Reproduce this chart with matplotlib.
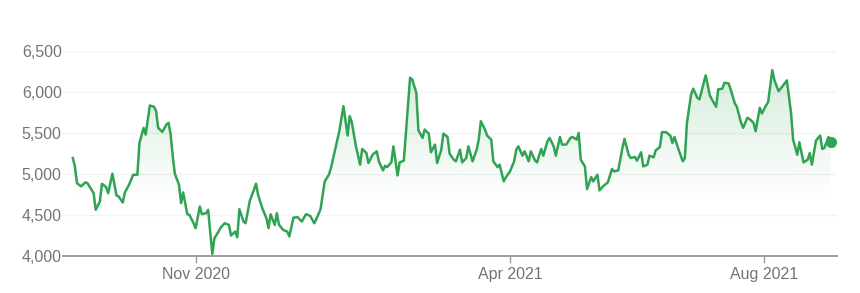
import numpy as np
import pandas as pd
import matplotlib
matplotlib.use('Agg')
import matplotlib.pyplot as plt
import matplotlib.dates as mdates
from matplotlib.ticker import FuncFormatter

plt.rcParams['font.family'] = ['Liberation Sans', 'DejaVu Sans']

# values (one point per visible vertex)
dates = [
    '2020-09-03', '2020-09-04', '2020-09-05', '2020-09-07', '2020-09-09', '2020-09-10',
    '2020-09-11', '2020-09-13', '2020-09-14', '2020-09-16', '2020-09-17', '2020-09-19',
    '2020-09-20', '2020-09-22', '2020-09-24', '2020-09-25', '2020-09-27', '2020-09-28',
    '2020-09-30', '2020-10-01', '2020-10-02', '2020-10-04', '2020-10-05', '2020-10-07',
    '2020-10-08', '2020-10-10', '2020-10-12', '2020-10-13', '2020-10-14', '2020-10-16',
    '2020-10-18', '2020-10-19', '2020-10-20', '2020-10-21', '2020-10-22', '2020-10-24',
    '2020-10-25', '2020-10-26', '2020-10-28', '2020-10-29', '2020-10-31', '2020-11-01',
    '2020-11-03', '2020-11-04', '2020-11-06', '2020-11-07', '2020-11-09', '2020-11-10',
    '2020-11-12', '2020-11-13', '2020-11-15', '2020-11-17', '2020-11-18', '2020-11-20',
    '2020-11-21', '2020-11-22', '2020-11-24', '2020-11-25', '2020-11-27', '2020-11-29',
    '2020-11-30', '2020-12-01', '2020-12-03', '2020-12-05', '2020-12-06', '2020-12-07',
    '2020-12-09', '2020-12-10', '2020-12-11', '2020-12-13', '2020-12-15', '2020-12-16',
    '2020-12-18', '2020-12-20', '2020-12-22', '2020-12-24', '2020-12-26', '2020-12-28',
    '2020-12-29', '2020-12-31', '2021-01-02', '2021-01-04', '2021-01-05', '2021-01-07',
    '2021-01-09', '2021-01-11', '2021-01-13', '2021-01-14', '2021-01-15', '2021-01-17',
    '2021-01-19', '2021-01-20', '2021-01-22', '2021-01-23', '2021-01-25', '2021-01-27',
    '2021-01-28', '2021-01-30', '2021-01-31', '2021-02-01', '2021-02-03', '2021-02-04',
    '2021-02-06', '2021-02-07', '2021-02-09', '2021-02-12', '2021-02-13', '2021-02-15',
    '2021-02-16', '2021-02-18', '2021-02-19', '2021-02-21', '2021-02-22', '2021-02-24',
    '2021-02-25', '2021-02-27', '2021-02-28', '2021-03-02', '2021-03-03', '2021-03-05',
    '2021-03-06', '2021-03-08', '2021-03-09', '2021-03-11', '2021-03-12', '2021-03-14',
    '2021-03-16', '2021-03-17', '2021-03-18', '2021-03-20', '2021-03-21', '2021-03-23',
    '2021-03-24', '2021-03-26', '2021-03-27', '2021-03-29', '2021-03-30', '2021-04-01',
    '2021-04-03', '2021-04-04', '2021-04-05', '2021-04-07', '2021-04-08', '2021-04-10',
    '2021-04-11', '2021-04-13', '2021-04-14', '2021-04-16', '2021-04-17', '2021-04-19',
    '2021-04-20', '2021-04-22', '2021-04-23', '2021-04-25', '2021-04-26', '2021-04-28',
    '2021-04-30', '2021-05-01', '2021-05-03', '2021-05-04', '2021-05-05', '2021-05-07',
    '2021-05-08', '2021-05-10', '2021-05-11', '2021-05-13', '2021-05-14', '2021-05-16',
    '2021-05-18', '2021-05-20', '2021-05-21', '2021-05-23', '2021-05-25', '2021-05-26',
    '2021-05-28', '2021-05-29', '2021-05-31', '2021-06-01', '2021-06-03', '2021-06-04',
    '2021-06-06', '2021-06-07', '2021-06-09', '2021-06-10', '2021-06-12', '2021-06-13',
    '2021-06-15', '2021-06-17', '2021-06-18', '2021-06-19', '2021-06-21', '2021-06-23',
    '2021-06-24', '2021-06-25', '2021-06-27', '2021-06-28', '2021-06-30', '2021-07-01',
    '2021-07-04', '2021-07-06', '2021-07-07', '2021-07-09', '2021-07-10', '2021-07-12',
    '2021-07-13', '2021-07-15', '2021-07-16', '2021-07-18', '2021-07-19', '2021-07-21',
    '2021-07-22', '2021-07-24', '2021-07-25', '2021-07-27', '2021-07-28', '2021-07-30',
    '2021-07-31', '2021-08-02', '2021-08-03', '2021-08-05', '2021-08-06', '2021-08-08',
    '2021-08-10', '2021-08-12', '2021-08-14', '2021-08-15', '2021-08-17', '2021-08-18',
    '2021-08-20', '2021-08-22', '2021-08-23', '2021-08-24', '2021-08-26', '2021-08-28',
    '2021-08-29', '2021-08-30', '2021-09-01', '2021-09-02',
]
values = [
    5191, 5089, 4885, 4845, 4894, 4885,
    4845, 4763, 4559, 4661, 4877, 4836,
    4763, 5000, 4734, 4722, 4649, 4771,
    4865, 4926, 4987, 4987, 5375, 5559,
    5477, 5832, 5816, 5763, 5559, 5510,
    5600, 5620, 5477, 5212, 5000, 4865,
    4641, 4771, 4506, 4498, 4396, 4335,
    4600, 4506, 4518, 4559, 4020, 4212,
    4294, 4343, 4396, 4375, 4245, 4294,
    4224, 4567, 4416, 4396, 4669, 4804,
    4877, 4743, 4579, 4457, 4335, 4506,
    4375, 4518, 4380, 4315, 4294, 4235,
    4465, 4469, 4416, 4506, 4486, 4396,
    4449, 4567, 4906, 4987, 5069, 5293,
    5518, 5824, 5465, 5702, 5628, 5334,
    5110, 5302, 5253, 5130, 5232, 5273,
    5151, 5040, 5097, 5081, 5138, 5334,
    4979, 5138, 5159, 6171, 6150, 5987,
    5530, 5436, 5538, 5489, 5261, 5355,
    5130, 5293, 5489, 5448, 5244, 5171,
    5151, 5293, 5138, 5191, 5334, 5151,
    5293, 5416, 5640, 5538, 5465, 5416,
    5151, 5081, 5110, 4906, 4955, 5028,
    5151, 5293, 5334, 5220, 5273, 5151,
    5273, 5163, 5138, 5302, 5220, 5395,
    5436, 5334, 5220, 5448, 5355, 5355,
    5436, 5448, 5416, 5497, 5171, 5089,
    4812, 4959, 4906, 4987, 4796, 4853,
    4894, 5057, 5028, 5040, 5314, 5424,
    5232, 5191, 5204, 5159, 5261, 5089,
    5110, 5220, 5200, 5285, 5326, 5506,
    5506, 5465, 5375, 5448, 5293, 5151,
    5191, 5620, 5967, 6036, 5926, 5906,
    6199, 5955, 5906, 5816, 6028, 6036,
    6109, 6101, 6028, 5857, 5816, 5620,
    5559, 5681, 5669, 5620, 5518, 5804,
    5734, 5832, 5873, 6264, 6142, 6007,
    6069, 6138, 5742, 5416, 5232, 5383,
    5138, 5171, 5253, 5110, 5404, 5465,
    5302, 5314, 5448, 5383,
]
y_ticks = [4000, 4500, 5000, 5500, 6000, 6500]

GREEN = '#31a354'
GREY_TXT = '#70757a'

x = pd.to_datetime(dates)
y = np.array(values, dtype=float)

fig = plt.figure(figsize=(8.6, 2.93), dpi=100)
ax = fig.add_axes([0.0733, 0.1273, 0.9, 0.6997])

# light horizontal grid
for v in y_ticks[1:]:
    ax.axhline(v, color='#f1f3f4', lw=1.0, zorder=0)

# gradient fill under the line, fading out around 4,700
fill = ax.fill_between(x, y, y_ticks[0], color='none', lw=0)
top = y.max()
grad_y = np.linspace(y_ticks[0], top, 256)
alpha = np.clip((grad_y - 4680) / (top - 4680), 0, 1) * 0.2
rgba = np.zeros((256, 1, 4))
rgba[..., :3] = matplotlib.colors.to_rgb(GREEN)
rgba[:, 0, 3] = alpha
x0, x1 = mdates.date2num(x[0]), mdates.date2num(x[-1])
im = ax.imshow(rgba, aspect='auto', origin='lower',
               extent=[x0, x1, y_ticks[0], top], zorder=1, interpolation='bilinear')
im.set_clip_path(fill.get_paths()[0], transform=ax.transData)

ax.plot(x, y, color=GREEN, lw=1.8, zorder=3, solid_joinstyle='round')
ax.plot(x[-1:], y[-1:], 'o', color=GREEN, ms=7, zorder=4)

# axes limits (reference: Nov 1 2020 tick)
ref = mdates.date2num(pd.Timestamp('2020-11-01'))
ax.set_xlim(ref - 63.7, ref + 308.1)
ax.set_ylim(y_ticks[0], y_ticks[-1])

ax.xaxis.set_major_locator(mdates.MonthLocator(bymonth=(4, 8, 11)))
ax.xaxis.set_major_formatter(mdates.DateFormatter('%b %Y'))
ax.set_yticks(y_ticks)
ax.yaxis.set_major_formatter(FuncFormatter(lambda v, p: f'{v:,.0f}'))

for s in ['top', 'right', 'left']:
    ax.spines[s].set_visible(False)
ax.spines['bottom'].set_color('#9e9e9e')
ax.spines['bottom'].set_linewidth(1.4)
ax.spines['bottom'].set_zorder(5)

ax.tick_params(axis='x', colors='#9e9e9e', length=5, width=1, pad=3,
               labelcolor=GREY_TXT, labelsize=11.5)
ax.tick_params(axis='y', length=0, pad=1, labelcolor=GREY_TXT, labelsize=11.5)

fig.savefig('out.png', dpi=100, facecolor='white')
